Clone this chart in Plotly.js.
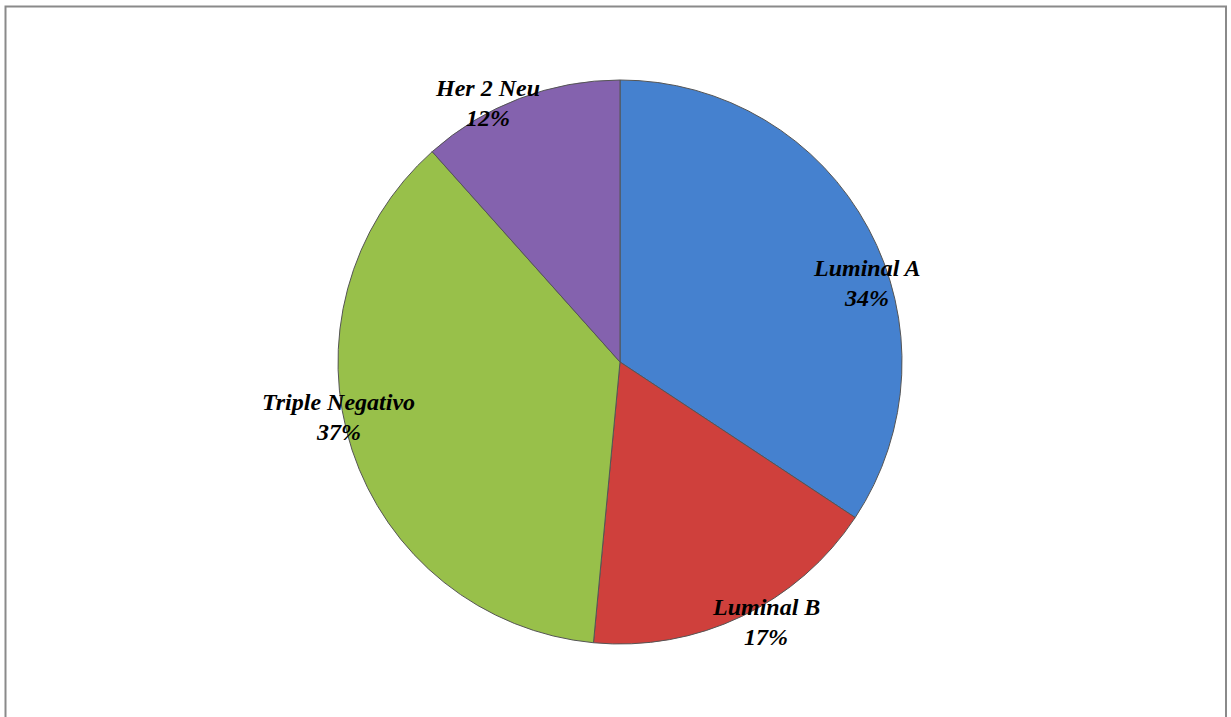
<!DOCTYPE html>
<html>
<head>
<meta charset="utf-8">
<script src="https://cdn.plot.ly/plotly-3.0.1.min.js"></script>
<style>html,body{margin:0;padding:0;background:#fff;}#chart{width:1231px;height:717px;}</style>
</head>
<body>
<div id="chart"></div>
<script>
const categories = ["Luminal A", "Luminal B", "Triple Negativo", "Her 2 Neu"];
const values = [34.3, 17.2, 36.9, 11.6];
const pctLabels = ["34%", "17%", "37%", "12%"];
const colors = ["#4581CF", "#CF403C", "#98C04A", "#8462AE"];

// label positions (paper px)
const labelPos = [[866, 268], [766, 607], [338, 402], [488, 88]];

const W = 1231, H = 717;
const cx = 620, cy = 362, r = 282;

const trace = {
  type: "pie",
  labels: categories,
  values: values,
  sort: false,
  direction: "clockwise",
  rotation: 0,
  textinfo: "none",
  hoverinfo: "label+percent",
  marker: { colors: colors, line: { color: "#555555", width: 1 } },
  domain: { x: [(cx - r) / W, (cx + r) / W], y: [(H - cy - r) / H, (H - cy + r) / H] },
  showlegend: false
};

const fnt = { family: "Liberation Serif, Times New Roman, serif", size: 24, color: "#000", weight: "bold", style: "italic" };
const annotations = [];
categories.forEach((c, i) => {
  const [x, y] = labelPos[i];
  annotations.push({ xref: "paper", yref: "paper", x: x / W, y: 1 - y / H, text: c, showarrow: false, font: fnt, xanchor: "center", yanchor: "middle" });
  annotations.push({ xref: "paper", yref: "paper", x: x / W, y: 1 - (y + 30) / H, text: pctLabels[i], showarrow: false, font: fnt, xanchor: "center", yanchor: "middle" });
});

const layout = {
  width: W, height: H,
  margin: { l: 0, r: 0, t: 0, b: 0 },
  paper_bgcolor: "#fff",
  annotations: annotations,
  shapes: [{ type: "rect", xref: "paper", yref: "paper", x0: 5.5 / W, x1: 1226 / W, y0: -0.05, y1: 1 - 6.5 / H, line: { color: "#8a8a8a", width: 2 }, fillcolor: "rgba(0,0,0,0)" }]
};

Plotly.newPlot("chart", [trace], layout, { displayModeBar: false, staticPlot: true });
</script>
</body>
</html>
